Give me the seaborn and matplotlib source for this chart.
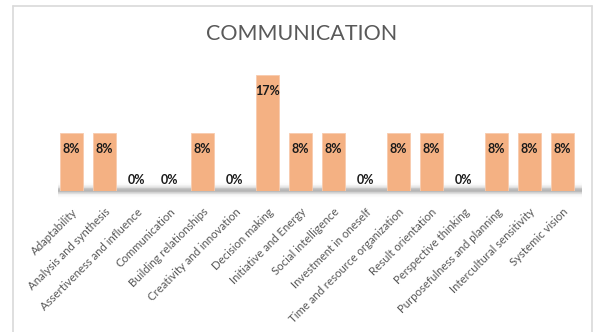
import numpy as np
import pandas as pd
import matplotlib
matplotlib.use("Agg")
import matplotlib.pyplot as plt
import seaborn as sns
from matplotlib.lines import Line2D

categories = ["Adaptability", "Analysis and synthesis", "Assertiveness and influence",
              "Communication", "Building relationships", "Creativity and innovation",
              "Decision making", "Initiative and Energy", "Social intelligence",
              "Investment in oneself", "Time and resource organization", "Result orientation",
              "Perspective thinking", "Purposefulness and planning", "Intercultural sensitivity",
              "Systemic vision"]
values = [8.33, 8.33, 0, 0, 8.33, 0, 16.67, 8.33, 8.33, 0, 8.33, 8.33, 0, 8.33, 8.33, 8.33]
labels = ["8%", "8%", "0%", "0%", "8%", "0%", "17%", "8%", "8%", "0%", "8%", "8%", "0%", "8%", "8%", "8%"]
title = "COMMUNICATION"

sns.set_theme(style="white")
plt.rcParams['font.family'] = ['Lato', 'DejaVu Sans']

df = pd.DataFrame({"cat": categories, "val": values})

fig = plt.figure(figsize=(5.93, 3.32), dpi=100)
ax = fig.add_axes([0.0927, 0.4247, 0.8828, 0.4187])

sns.barplot(data=df, x="cat", y="val", color="#F4B183", saturation=1, width=0.7,
            ax=ax, zorder=2, edgecolor="#F8CBAD", linewidth=0.6)

ax.set_xlim(-0.5, 15.5)
ax.set_ylim(0, 20)

# soft shadow along the baseline (layered thin bands)
edges = np.linspace(-1.0, 1.6, 27)
for y0, y1 in zip(edges[:-1], edges[1:]):
    yc = 0.5 * (y0 + y1)
    a = 0.42 * np.exp(-((yc - 0.1) / 0.5) ** 2)
    ax.fill_between([-0.4, 15.6], y0, y1, color="#505050", alpha=a, linewidth=0,
                    zorder=1, clip_on=False)

for i, (v, lab) in enumerate(zip(values, labels)):
    y = v - 2.3 if v > 0 else 1.6
    ax.text(i, y, lab, ha="center", va="center", fontsize=9, fontweight="bold",
            color="#1a1a1a", zorder=3)

ax.set_xlabel("")
ax.set_ylabel("")
ax.set_yticks([])
ax.set_xticks(range(len(categories)))
ax.set_xticklabels(categories, rotation=45, ha="right", rotation_mode="anchor",
                   fontsize=8.2, color="#595959")
ax.tick_params(axis="x", length=0, pad=11)
for s in ax.spines.values():
    s.set_visible(False)
ax.patch.set_alpha(0)

fig.text(0.508, 0.897, title, ha="center", va="center", fontsize=15.5, color="#595959")

# outer frame
W, H = 593, 332
frame_kw = dict(color="#D9D9D9", linewidth=1.2, transform=fig.transFigure)
fig.add_artist(Line2D([13 / W, 13 / W], [0, 1 - 6 / H], **frame_kw))
fig.add_artist(Line2D([13 / W, 591.5 / W], [1 - 6 / H, 1 - 6 / H], **frame_kw))
fig.add_artist(Line2D([591.5 / W, 591.5 / W], [0, 1 - 6 / H], **frame_kw))

fig.savefig("out.png", dpi=100)
